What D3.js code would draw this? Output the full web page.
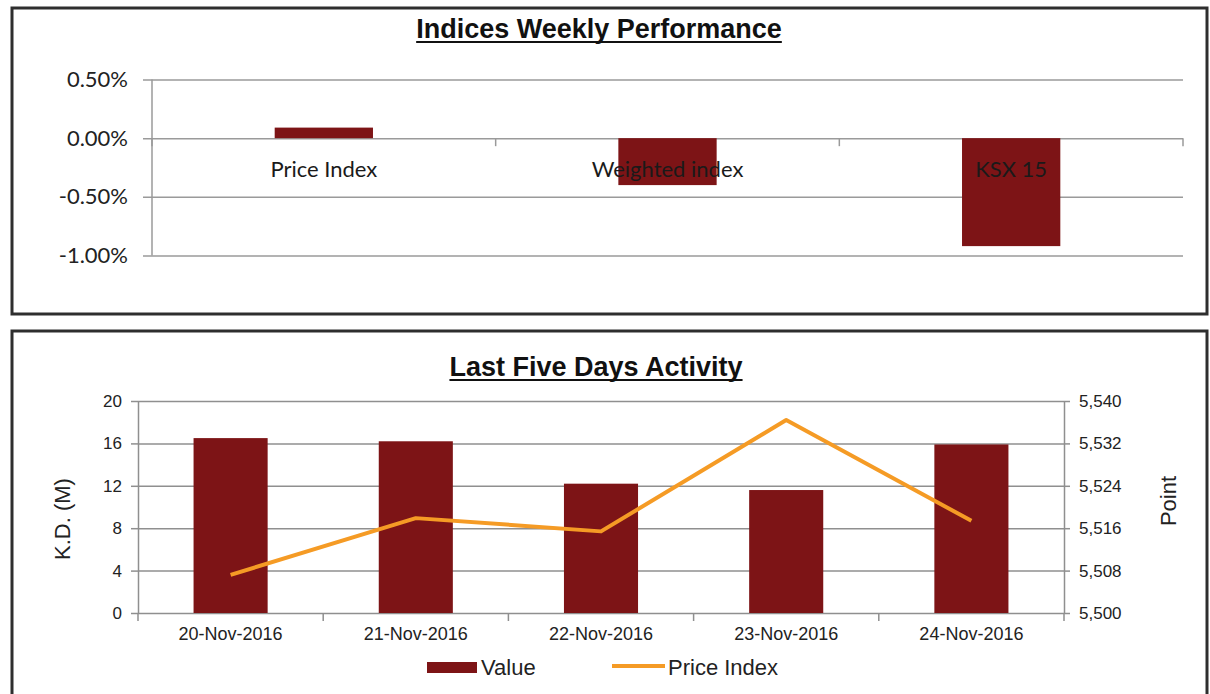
<!DOCTYPE html>
<html>
<head>
<meta charset="utf-8">
<script src="https://cdn.jsdelivr.net/npm/d3@7.9.0/dist/d3.min.js"></script>
<style>
  html, body { margin: 0; padding: 0; background: #fff; }
  svg { display: block; }
  .calib { font-family: Lato, "Open Sans", sans-serif; }
  .arial { font-family: "Liberation Sans", Arial, sans-serif; }
</style>
</head>
<body>
<div id="chart"></div>
<script>
// ---- data ----
const perfCategories = ["Price Index", "Weighted index", "KSX 15"];
const perfValues = [0.0009, -0.004, -0.0092];
const perfTicks = [0.005, 0, -0.005, -0.01];

const days = ["20-Nov-2016", "21-Nov-2016", "22-Nov-2016", "23-Nov-2016", "24-Nov-2016"];
const tradedValue = [16.5, 16.2, 12.2, 11.6, 15.9];
const priceIndex = [5507.2, 5517.9, 5515.4, 5536.4, 5517.4];
const valueTicks = [0, 4, 8, 12, 16, 20];
const pointTicks = [5500, 5508, 5516, 5524, 5532, 5540];

const barColor = "#7d1416";
const lineColor = "#f59b25";
const gridColor = "#8f8f8f";

const width = 1210;
const height = 694;

const pct = d => d3.format(".2%")(d).replace("\u2212", "-");

const svg = d3.select("#chart")
  .append("svg")
  .attr("width", width)
  .attr("height", height);

// panel frames
svg.append("rect")
  .attr("x", 12).attr("y", 8).attr("width", 1195).attr("height", 306)
  .attr("fill", "none").attr("stroke", "#2e2e2e").attr("stroke-width", 3);
svg.append("rect")
  .attr("x", 12).attr("y", 331).attr("width", 1195).attr("height", 380)
  .attr("fill", "none").attr("stroke", "#2e2e2e").attr("stroke-width", 3);

function underlinedTitle(text, cx, baseline) {
  const t = svg.append("text")
    .attr("class", "arial")
    .attr("x", cx).attr("y", baseline)
    .attr("text-anchor", "middle")
    .attr("font-size", 27)
    .attr("font-weight", "bold")
    .attr("fill", "#111")
    .text(text);
  const w = t.node().getComputedTextLength();
  svg.append("line")
    .attr("x1", cx - w / 2).attr("x2", cx + w / 2)
    .attr("y1", baseline + 4).attr("y2", baseline + 4)
    .attr("stroke", "#111").attr("stroke-width", 2);
}

// ================= top chart =================
function renderPerformance() {
  const left = 152, right = 1183;
  const y = d3.scaleLinear().domain([-0.01, 0.005]).range([255.5, 79.5]);
  const x = d3.scaleBand()
    .domain(perfCategories)
    .range([left, right])
    .paddingInner(0.714)
    .paddingOuter(0.357);

  underlinedTitle("Indices Weekly Performance", 599, 38);

  // gridlines
  const grid = svg.append("g")
    .attr("transform", `translate(143,0)`)
    .call(d3.axisLeft(y).tickValues(perfTicks).tickSize(-(right - 143)).tickFormat(""));
  grid.select(".domain").remove();
  grid.selectAll("line").attr("stroke", "#9a9a9a").attr("stroke-width", 1.5);

  // y labels
  const yAxis = svg.append("g")
    .attr("class", "calib")
    .attr("transform", `translate(143,0)`)
    .call(d3.axisLeft(y).tickValues(perfTicks).tickSize(0).tickPadding(15).tickFormat(pct));
  yAxis.select(".domain").remove();
  yAxis.selectAll("text").attr("font-size", 22).attr("fill", "#222");

  // vertical axis line
  svg.append("line")
    .attr("x1", left).attr("x2", left)
    .attr("y1", y(0.005)).attr("y2", y(-0.01))
    .attr("stroke", "#9a9a9a").attr("stroke-width", 1.5);

  // bars
  svg.append("g").selectAll("rect")
    .data(perfCategories)
    .join("rect")
    .attr("x", d => x(d))
    .attr("width", x.bandwidth())
    .attr("y", (d, i) => y(Math.max(0, perfValues[i])))
    .attr("height", (d, i) => Math.abs(y(perfValues[i]) - y(0)))
    .attr("fill", barColor);

  // category ticks on zero line
  const bounds = d3.range(perfCategories.length + 1).map(i => left + i * x.step());
  svg.append("g").selectAll("line")
    .data(bounds)
    .join("line")
    .attr("x1", d => d).attr("x2", d => d)
    .attr("y1", y(0)).attr("y2", y(0) + 8)
    .attr("stroke", "#9a9a9a").attr("stroke-width", 1.5);

  // category labels (drawn over bars)
  const xAxis = svg.append("g")
    .attr("class", "calib")
    .attr("transform", `translate(0,${y(0)})`)
    .call(d3.axisBottom(x).tickSize(0).tickPadding(23));
  xAxis.select(".domain").remove();
  xAxis.selectAll("text").attr("font-size", 22).attr("fill", "#1a1a1a");
}

// ================= bottom chart =================
function renderActivity() {
  const left = 138, right = 1064;
  const yL = d3.scaleLinear().domain([0, 20]).range([613, 401]);
  const yR = d3.scaleLinear().domain([5500, 5540]).range([613, 401]);
  const x = d3.scaleBand()
    .domain(days)
    .range([left, right])
    .paddingInner(0.6)
    .paddingOuter(0.3);

  underlinedTitle("Last Five Days Activity", 596, 376);

  // gridlines
  const grid = svg.append("g")
    .attr("transform", `translate(${left},0)`)
    .call(d3.axisLeft(yL).tickValues(valueTicks).tickSize(-(right - left)).tickFormat(""));
  grid.select(".domain").remove();
  grid.selectAll("line").attr("stroke", gridColor).attr("stroke-width", 1.5);

  // left axis
  const axL = svg.append("g")
    .attr("class", "arial")
    .attr("transform", `translate(${left},0)`)
    .call(d3.axisLeft(yL).tickValues(valueTicks).tickSizeInner(7).tickSizeOuter(0).tickPadding(9));
  axL.select(".domain").attr("stroke", gridColor).attr("stroke-width", 1.5);
  axL.selectAll("line").attr("stroke", gridColor).attr("stroke-width", 1.5);
  axL.selectAll("text").attr("font-size", 17).attr("fill", "#222");

  // right axis
  const axR = svg.append("g")
    .attr("class", "arial")
    .attr("transform", `translate(${right},0)`)
    .call(d3.axisRight(yR).tickValues(pointTicks).tickSizeInner(6).tickSizeOuter(0).tickPadding(9)
      .tickFormat(d3.format(",")));
  axR.select(".domain").attr("stroke", gridColor).attr("stroke-width", 1.5);
  axR.selectAll("line").attr("stroke", gridColor).attr("stroke-width", 1.5);
  axR.selectAll("text").attr("font-size", 17).attr("fill", "#222");

  // bars
  svg.append("g").selectAll("rect")
    .data(days)
    .join("rect")
    .attr("x", d => x(d))
    .attr("width", x.bandwidth())
    .attr("y", (d, i) => yL(tradedValue[i]))
    .attr("height", (d, i) => yL(0) - yL(tradedValue[i]))
    .attr("fill", barColor);

  // category ticks
  const bounds = d3.range(days.length + 1).map(i => left + i * x.step());
  svg.append("g").selectAll("line")
    .data(bounds)
    .join("line")
    .attr("x1", d => d).attr("x2", d => d)
    .attr("y1", yL(0)).attr("y2", yL(0) + 8)
    .attr("stroke", gridColor).attr("stroke-width", 1.5);

  // x labels
  const axX = svg.append("g")
    .attr("class", "arial")
    .attr("transform", `translate(0,${yL(0)})`)
    .call(d3.axisBottom(x).tickSize(0).tickPadding(14));
  axX.select(".domain").remove();
  axX.selectAll("text").attr("font-size", 18).attr("fill", "#222");

  // price index line
  const line = d3.line()
    .x((d, i) => x(days[i]) + x.bandwidth() / 2)
    .y(d => yR(d));
  svg.append("path")
    .datum(priceIndex)
    .attr("d", line)
    .attr("fill", "none")
    .attr("stroke", lineColor)
    .attr("stroke-width", 4)
    .attr("stroke-linejoin", "round");

  // axis titles
  svg.append("text")
    .attr("class", "arial")
    .attr("transform", "translate(70,519) rotate(-90)")
    .attr("text-anchor", "middle")
    .attr("font-size", 22)
    .attr("fill", "#222")
    .text("K.D. (M)");
  svg.append("text")
    .attr("class", "arial")
    .attr("transform", "translate(1176,501) rotate(-90)")
    .attr("text-anchor", "middle")
    .attr("font-size", 22)
    .attr("fill", "#222")
    .text("Point");

  // legend
  const lg = svg.append("g").attr("class", "arial");
  lg.append("rect")
    .attr("x", 427).attr("y", 662).attr("width", 50).attr("height", 11)
    .attr("fill", barColor);
  lg.append("text")
    .attr("x", 481).attr("y", 675)
    .attr("font-size", 22).attr("fill", "#222")
    .text("Value");
  lg.append("line")
    .attr("x1", 612).attr("x2", 665).attr("y1", 666).attr("y2", 666)
    .attr("stroke", lineColor).attr("stroke-width", 4);
  lg.append("text")
    .attr("x", 668).attr("y", 675)
    .attr("font-size", 22).attr("fill", "#222")
    .text("Price Index");
}

renderPerformance();
renderActivity();
</script>
</body>
</html>
